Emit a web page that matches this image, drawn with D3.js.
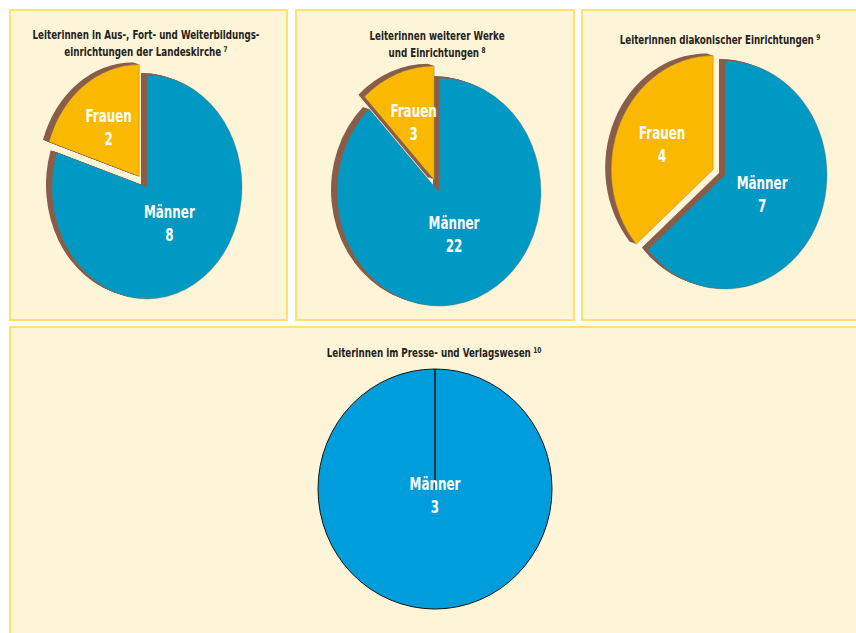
<!DOCTYPE html>
<html><head><meta charset="utf-8">
<script src="https://cdn.jsdelivr.net/npm/d3@7"></script>
<style>body{margin:0;background:#fff}svg{display:block}</style>
</head><body>
<svg id="c" width="856" height="633"></svg>
<script>
// ---- data ----
const titles = [
  ["Leiterinnen in Aus-, Fort- und Weiterbildungs-", "einrichtungen der Landeskirche"],
  ["Leiterinnen weiterer Werke", "und Einrichtungen"],
  ["Leiterinnen diakonischer Einrichtungen"],
  ["Leiterinnen im Presse- und Verlagswesen"]
];
const footnotes = ["7", "8", "9", "10"];
const categories = ["Männer", "Frauen"];
const maenner = [8, 22, 7, 3];
const frauen = [2, 3, 4, 0];

// ---- layout ----
const panels = [
  {x:10, y:10, w:277, h:310, cx:147, cy:187, rx:95, ry:112, tx:146, ty:[39,56], depth:true},
  {x:296, y:10, w:278, h:310, cx:439, cy:192, rx:102, ry:114, tx:437, ty:[40,57], depth:true},
  {x:582, y:10, w:290, h:310, cx:725, cy:175, rx:102, ry:114, tx:720, ty:[44], depth:true},
  {x:10, y:327, w:860, h:320, cx:435, cy:489, rx:117, ry:120, tx:434, ty:[357], depth:false}
];
const FONT = "'DejaVu Sans Condensed','Liberation Sans Narrow',Arial,sans-serif";
const TSX = 0.81, LSX = 0.78;
const colors = {"Männer":"#0099c4", "Frauen":"#fab900"};
const flatBlue = "#009ddd";
const brown = "#8a5d4a";

const svg = d3.select("#c");
svg.append("rect").attr("width",856).attr("height",633).attr("fill","#ffffff");

const pie = d3.pie().sort(null).value(d => d.value);

function label(parent, x, y, name, val) {
  const lg = parent.append("g").attr("transform", `translate(${x},${y}) scale(${LSX},1)`);
  const lt = lg.append("text").attr("text-anchor","middle").attr("font-family",FONT)
    .attr("font-weight","bold").attr("font-size",17).attr("fill","#fff");
  lt.append("tspan").attr("x", 0).attr("y", -5).text(name);
  lt.append("tspan").attr("x", 0).attr("y", 18).text(val);
}

panels.forEach((p, i) => {
  const g = svg.append("g");
  g.append("rect").attr("x", p.x).attr("y", p.y).attr("width", p.w).attr("height", p.h)
    .attr("fill", "#fef4d8").attr("stroke", "#fde36a").attr("stroke-width", 2);

  // title
  const tg = g.append("g").attr("transform", `translate(${p.tx},0) scale(${TSX},1)`);
  const t = tg.append("text").attr("text-anchor","middle").attr("font-family",FONT)
    .attr("font-weight","bold").attr("font-size",12).attr("fill","#231f20");
  titles[i].forEach((line, li) => {
    t.append("tspan").attr("x", 0).attr("y", p.ty[li]).text(line);
    if (li === titles[i].length - 1) {
      t.append("tspan").attr("dx", 3).attr("dy", -4).attr("font-size", 8).text(footnotes[i]);
    }
  });

  const data = categories.map((c, k) => ({cat:c, value: k === 0 ? maenner[i] : frauen[i]}));
  const arcs = pie(data);
  const R = p.ry, sx = p.rx / p.ry;
  const arc = d3.arc().innerRadius(0).outerRadius(R);
  const pg = g.append("g").attr("transform", `translate(${p.cx},${p.cy})`);

  if (p.depth) {
    arcs.forEach(a => {
      if (a.value <= 0) return;
      const mid = (a.startAngle + a.endAngle) / 2;
      const ex = a.data.cat === "Frauen" ? 13 : 0;
      const ox = Math.sin(mid) * ex, oy = -Math.cos(mid) * ex;
      const sg = pg.append("g").attr("transform", `translate(${ox},${oy})`);
      for (let k = 6; k >= 1; k--) {
        sg.append("path").attr("d", arc(a))
          .attr("transform", `translate(${-k},${-k*0.35}) scale(${sx},1)`)
          .attr("fill", brown);
      }
      sg.append("path").attr("d", arc(a)).attr("transform", `scale(${sx},1)`)
        .attr("fill", colors[a.data.cat]).attr("stroke", "#7a6a55").attr("stroke-width", 0.4);
      const f = a.data.cat === "Frauen" ? 0.55 : 0.4;
      const lx = ox + Math.sin(mid) * R * f * sx, ly = oy - Math.cos(mid) * R * f;
      label(pg, lx, ly, a.data.cat, a.value);
    });
  } else {
    arcs.forEach(a => {
      if (a.value <= 0) return;
      pg.append("path").attr("d", arc(a)).attr("transform", `scale(${sx},1)`)
        .attr("fill", flatBlue).attr("stroke", "#111").attr("stroke-width", 1);
    });
    const a0 = arcs[0].startAngle;
    pg.append("line").attr("x1",0).attr("y1",0)
      .attr("x2", Math.sin(a0) * R * sx).attr("y2", -Math.cos(a0) * R)
      .attr("stroke","#111").attr("stroke-width",1.5);
    label(pg, 0, 6, arcs[0].data.cat, arcs[0].value);
  }
});
</script>
</body></html>
